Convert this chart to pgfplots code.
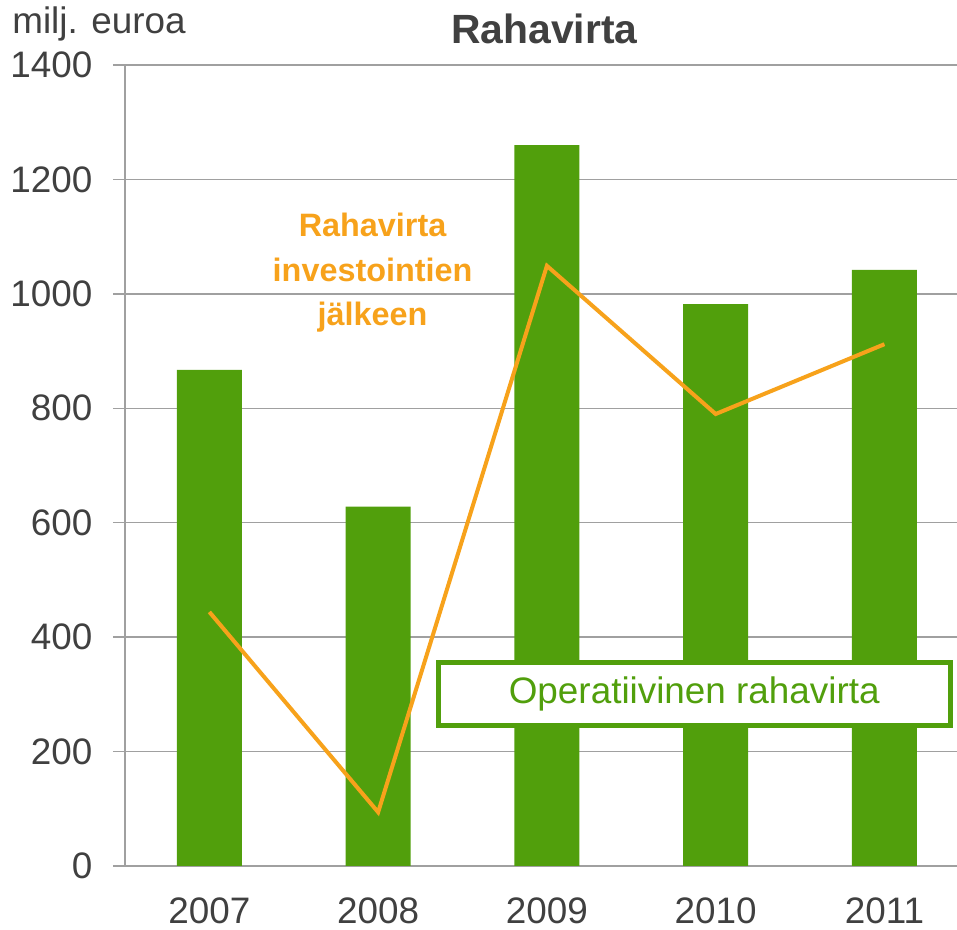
\documentclass[border=0pt]{standalone}
\usepackage{fontspec}
\setmainfont{Liberation Sans}
\usepackage{pgfplots}
\pgfplotsset{compat=1.18}
\definecolor{bargreen}{HTML}{519F0C}
\definecolor{lineorange}{HTML}{F7A21B}
\definecolor{axgray}{HTML}{A0A0A0}
\definecolor{txtgray}{HTML}{404040}

\pgfplotstableread{
x oper after
0 867 444
1 628 94
2 1260 1049
3 982 790
4 1042 912
}\cashflow

\begin{document}
\begin{tikzpicture}
\begin{axis}[
    at={(125bp,64bp)}, anchor=south west,
    scale only axis,
    width=832bp, height=801bp,
    xmin=-0.5, xmax=4.43,
    ymin=0, ymax=1400,
    ytick={0,200,...,1400},
    xtick={0,...,4},
    xticklabels={2007,2008,2009,2010,2011},
    major x tick style={draw=none},
    extra x ticks={-0.5,0.5,1.5,2.5,3.5},
    extra x tick labels={},
    extra x tick style={major tick length=12bp, tick align=outside,
        major tick style={draw=axgray, line width=1.5bp}},
    major tick length=12bp,
    tick align=outside,
    y tick style={draw=axgray, line width=1.5bp},
    ymajorgrids=true,
    major grid style={draw=axgray, line width=1.5bp},
    axis x line*=bottom,
    axis y line*=left,
    axis line style={draw=axgray, line width=1.5bp, -},
    ticklabel style={font=\fontsize{37}{44}\selectfont, text=txtgray},
    xticklabel style={inner sep=0pt, text depth=0pt, yshift=-20bp},
    /pgf/number format/assume math mode=true,
    /pgf/number format/1000 sep={},
    yticklabel style={xshift=-17bp},
    clip=false,
]
\addplot[ybar, bar width=65bp, fill=bargreen, draw=none] table[x=x, y=oper] {\cashflow};
\addplot[lineorange, line width=4bp, line join=miter, no marks] table[x=x, y=after] {\cashflow};

\node[font=\fontsize{41}{48}\selectfont\bfseries, text=txtgray] at (axis cs:1.985,1400) [yshift=36bp] {Rahavirta};
\node[font=\fontsize{37}{44}\selectfont, text=txtgray, anchor=west, inner sep=0pt] at (axis cs:-1.169,1400) [yshift=41bp] {milj. euroa};
\node[font=\fontsize{32.5}{45}\selectfont\bfseries, text=lineorange, align=center] at (axis cs:0.967,1037) {Rahavirta\\investointien\\jälkeen};
\node[font=\fontsize{37}{44}\selectfont, text=bargreen, draw=bargreen, line width=5bp, fill=white,
      minimum width=512bp, minimum height=63bp] at (axis cs:2.873,301) {Operatiivinen rahavirta};
\end{axis}
\pgfresetboundingbox
\path[use as bounding box] (0,0) rectangle (957bp,930bp);
\end{tikzpicture}
\end{document}
